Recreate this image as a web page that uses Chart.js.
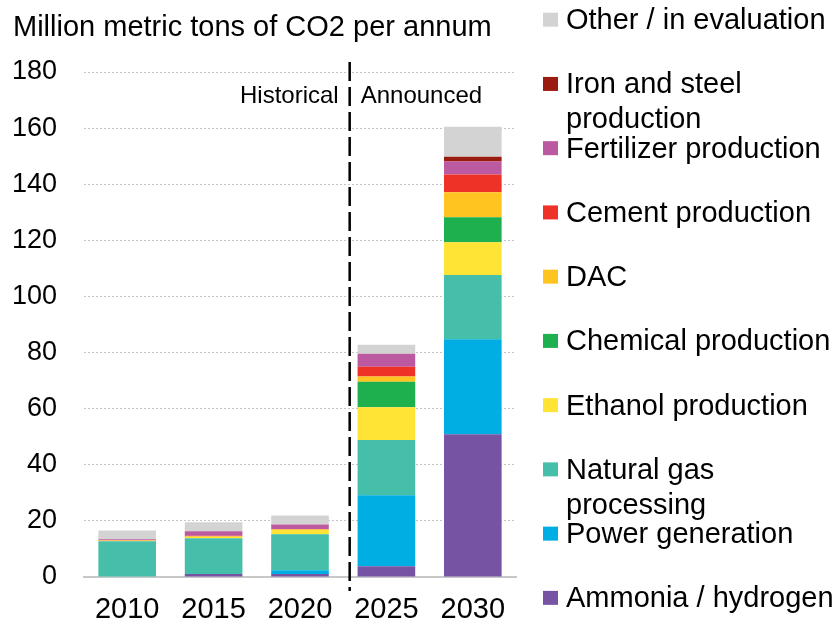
<!DOCTYPE html>
<html>
<head>
<meta charset="utf-8">
<script src="https://cdn.jsdelivr.net/npm/chart.js@4/dist/chart.umd.min.js"></script>
<style>
    body { margin: 0; background: #fff; }
</style>
</head>
<body>
<canvas id="co2_chart" width="835" height="625"></canvas>
<script>
const years = ["2010", "2015", "2020", "2025", "2030"];
const yTicks = [0, 20, 40, 60, 80, 100, 120, 140, 160, 180];

// stacked from the bottom up
const ammonia = [0, 1.1, 1.1, 3.8, 50.9];
const power = [0, 0, 1.3, 25.3, 33.8];
const naturalGas = [12.7, 12.7, 12.8, 19.7, 22.9];
const ethanol = [0.3, 0.5, 1.7, 11.7, 11.7];
const chemical = [0, 0, 0, 9.1, 8.9];
const dac = [0, 0.2, 0, 1.9, 8.9];
const cement = [0.2, 0.2, 0.2, 3.4, 6.4];
const fertilizer = [0.3, 1.6, 1.6, 4.7, 4.6];
const ironSteel = [0, 0, 0, 0, 1.7];
const other = [3.1, 3.2, 3.2, 3.2, 10.7];

const seriesNames = ["Ammonia / hydrogen", "Power generation", "Natural gas processing", "Ethanol production",
    "Chemical production", "DAC", "Cement production", "Fertilizer production", "Iron and steel production",
    "Other / in evaluation"];
const seriesValues = [ammonia, power, naturalGas, ethanol, chemical, dac, cement, fertilizer, ironSteel, other];
const seriesColors = ["#7754a3", "#00aee3", "#45bfaa", "#ffe335", "#1eaf4e", "#ffc420", "#ee3228", "#bb5aa0",
    "#9a1b10", "#d3d3d3"];

const fontName = "'Liberation Sans', Arial, sans-serif";

function wrapText(ctx, text, maxWidth) {
    let words = text.split(' ');
    let lines = [];
    let line = '';
    for (const word of words) {
        let test = line ? line + ' ' + word : word;
        if (line && ctx.measureText(test).width > maxWidth) {
            lines.push(line);
            line = word;
        } else {
            line = test;
        }
    }
    lines.push(line);
    return lines;
}

const extrasPlugin = {
    id: 'extras',
    afterDraw(chart) {
        const ctx = chart.ctx;
        const xs = chart.scales.x;
        const area = chart.chartArea;
        ctx.save();

        // axis title
        ctx.fillStyle = '#000';
        ctx.font = '29px ' + fontName;
        ctx.textAlign = 'left';
        ctx.textBaseline = 'alphabetic';
        ctx.fillText("Million metric tons of CO2 per annum", 13, 36);

        // historical / announced divider
        let x2020 = xs.getPixelForValue(2);
        let x2025 = xs.getPixelForValue(3);
        let divX = x2020 + (x2025 - x2020) * 0.575;
        ctx.strokeStyle = '#000';
        ctx.lineWidth = 2.5;
        ctx.setLineDash([19, 6]);
        ctx.beginPath();
        ctx.moveTo(divX, area.top - 10);
        ctx.lineTo(divX, area.bottom + 14);
        ctx.stroke();
        ctx.setLineDash([]);

        ctx.font = '24px ' + fontName;
        ctx.textBaseline = 'middle';
        ctx.textAlign = 'right';
        ctx.fillText("Historical", divX - 11, 96);
        ctx.textAlign = 'left';
        ctx.fillText("Announced", divX + 11, 96);

        // legend, top item first
        ctx.font = '29px ' + fontName;
        let itemY = 19.7;
        for (let i = chart.data.datasets.length - 1; i >= 0; i--) {
            let ds = chart.data.datasets[i];
            ctx.fillStyle = ds.backgroundColor;
            ctx.fillRect(543, itemY - 7, 15, 14);
            ctx.fillStyle = '#000';
            let lines = wrapText(ctx, ds.label, 272);
            lines.forEach((line, k) => {
                ctx.fillText(line, 566, itemY + 1.5 + k * 35);
            });
            itemY += 64.24;
        }
        ctx.restore();
    }
};

new Chart(document.getElementById("co2_chart"), {
    type: 'bar',
    data: {
        labels: years,
        datasets: seriesNames.map((name, i) => ({
            label: name,
            data: seriesValues[i],
            backgroundColor: seriesColors[i],
            borderWidth: 0,
            categoryPercentage: 1,
            barPercentage: 0.667
        }))
    },
    options: {
        responsive: false,
        animation: false,
        layout: {
            padding: { top: 72, right: 319, left: 0, bottom: 0 }
        },
        scales: {
            x: {
                stacked: true,
                grid: { display: false, drawTicks: false },
                border: { display: true, color: '#c8c8c8', width: 2 },
                ticks: {
                    color: '#000',
                    font: { family: fontName, size: 29 },
                    padding: 16
                },
                afterFit: (scale) => { scale.height = 48; }
            },
            y: {
                stacked: true,
                min: 0,
                max: 180,
                afterBuildTicks: (scale) => { scale.ticks = yTicks.map(v => ({ value: v })); },
                grid: { color: '#c4c4c4', lineWidth: 1, drawTicks: false },
                border: { display: false, dash: [2, 2] },
                ticks: {
                    color: '#000',
                    font: { family: fontName, size: 27 },
                    padding: 27
                },
                afterFit: (scale) => { scale.width = 84; }
            }
        },
        plugins: {
            legend: { display: false },
            tooltip: { enabled: false }
        }
    },
    plugins: [extrasPlugin]
});
</script>
</body>
</html>
